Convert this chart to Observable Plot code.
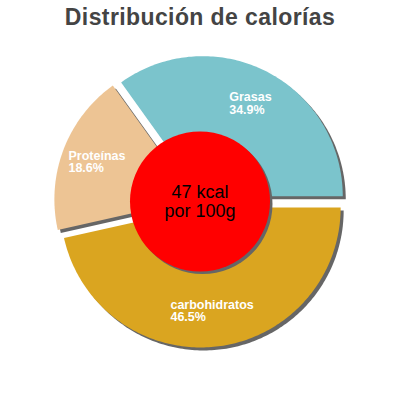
<!DOCTYPE html>
<html><head><meta charset="utf-8">
<script src="https://cdn.jsdelivr.net/npm/d3@7"></script>
<script src="https://cdn.jsdelivr.net/npm/@observablehq/plot@0.6"></script>
<style>
body{margin:0;background:#fff;width:400px;height:400px;overflow:hidden;font-family:"Liberation Sans",Arial,sans-serif}
#title{height:34px;line-height:34px;text-align:center;font-size:23px;font-weight:bold;color:#444;white-space:nowrap;letter-spacing:0.4px}
</style></head><body>
<div id="title">Distribución de calorías</div>
<div id="chart"></div>
<script>
// ---- data ----
const categories = ["Grasas", "Proteínas", "carbohidratos"];
const percentages = [34.9, 18.6, 46.5];
const colors = ["#7bc4cc", "#edc494", "#daa520"];
const centerLines = ["47 kcal", "por 100g"];

// ---- geometry (pixels) ----
const W = 400, H = 366, R = 140, EXPLODE = 6, CX = 199.5, CY = 167;
const u = R; // pixels per data unit
const total = d3.sum(percentages);

// build slice polygons with d3.pie (angles counter-clockwise from east)
const pie = d3.pie().sort(null).value(d => d.value)(categories.map((name, i) => ({name, value: percentages[i]})));
const polys = [];
const labels = [];
let cum = 0;
pie.forEach((p, i) => {
  const a0 = cum / total * 2 * Math.PI;
  cum += p.data.value;
  const a1 = cum / total * 2 * Math.PI;
  const mid = (a0 + a1) / 2;
  const ox = EXPLODE / u * Math.cos(mid), oy = EXPLODE / u * Math.sin(mid);
  const name = p.data.name;
  polys.push({name, x: ox, y: oy});
  const n = Math.max(2, Math.ceil((a1 - a0) / (Math.PI / 180)));
  for (let k = 0; k <= n; k++) {
    const a = a0 + (a1 - a0) * k / n;
    polys.push({name, x: ox + Math.cos(a), y: oy + Math.sin(a)});
  }
  polys.push({name, x: ox, y: oy});
  labels.push({name, x: ox + 0.745 * Math.cos(mid), y: oy + 0.745 * Math.sin(mid),
    text: name + "\n" + p.data.value.toFixed(1) + "%"});
});

// measure label widths to left-align text inside a centred block
const ctx = document.createElement("canvas").getContext("2d");
ctx.font = "bold 12.5px 'Liberation Sans', Arial, sans-serif";

const labelMarks = labels.map(l => {
  const w = Math.max(...l.text.split("\n").map(s => ctx.measureText(s).width));
  return Plot.text([l], {x: "x", y: "y", text: "text", fill: "white", fontSize: 12.5, fontWeight: "bold",
    lineHeight: 1.0, textAnchor: "start", lineAnchor: "middle", dx: -w / 2});
});

const chart = Plot.plot({
  width: W, height: H,
  marginTop: 0, marginBottom: 0, marginLeft: 0, marginRight: 0,
  x: {domain: [-CX / u, (W - CX) / u], axis: null},
  y: {domain: [-(H - CY) / u, CY / u], axis: null},
  color: {domain: categories, range: colors},
  style: {fontFamily: "'Liberation Sans', Arial, sans-serif", background: "white", overflow: "visible"},
  marks: [
    Plot.line(polys, {x: "x", y: "y", z: "name", fill: "#666666", stroke: "none", dx: 3, dy: 3, curve: "linear"}),
    Plot.line(polys, {x: "x", y: "y", z: "name", fill: "name", stroke: "none", curve: "linear"}),
    Plot.dot([{x: 0, y: 0}], {x: "x", y: "y", r: 70, fill: "#666666", stroke: "none", dx: 2.5, dy: 2.5}),
    Plot.dot([{x: 0, y: 0}], {x: "x", y: "y", r: 70, fill: "red", stroke: "none"}),
    ...labelMarks,
    Plot.text([{x: 0, y: 0, text: centerLines.join("\n")}], {x: "x", y: "y", text: "text", fill: "black",
      fontSize: 18, lineHeight: 1.08, textAnchor: "middle", lineAnchor: "middle"})
  ]
});
document.getElementById("chart").appendChild(chart);
</script>
</body></html>
